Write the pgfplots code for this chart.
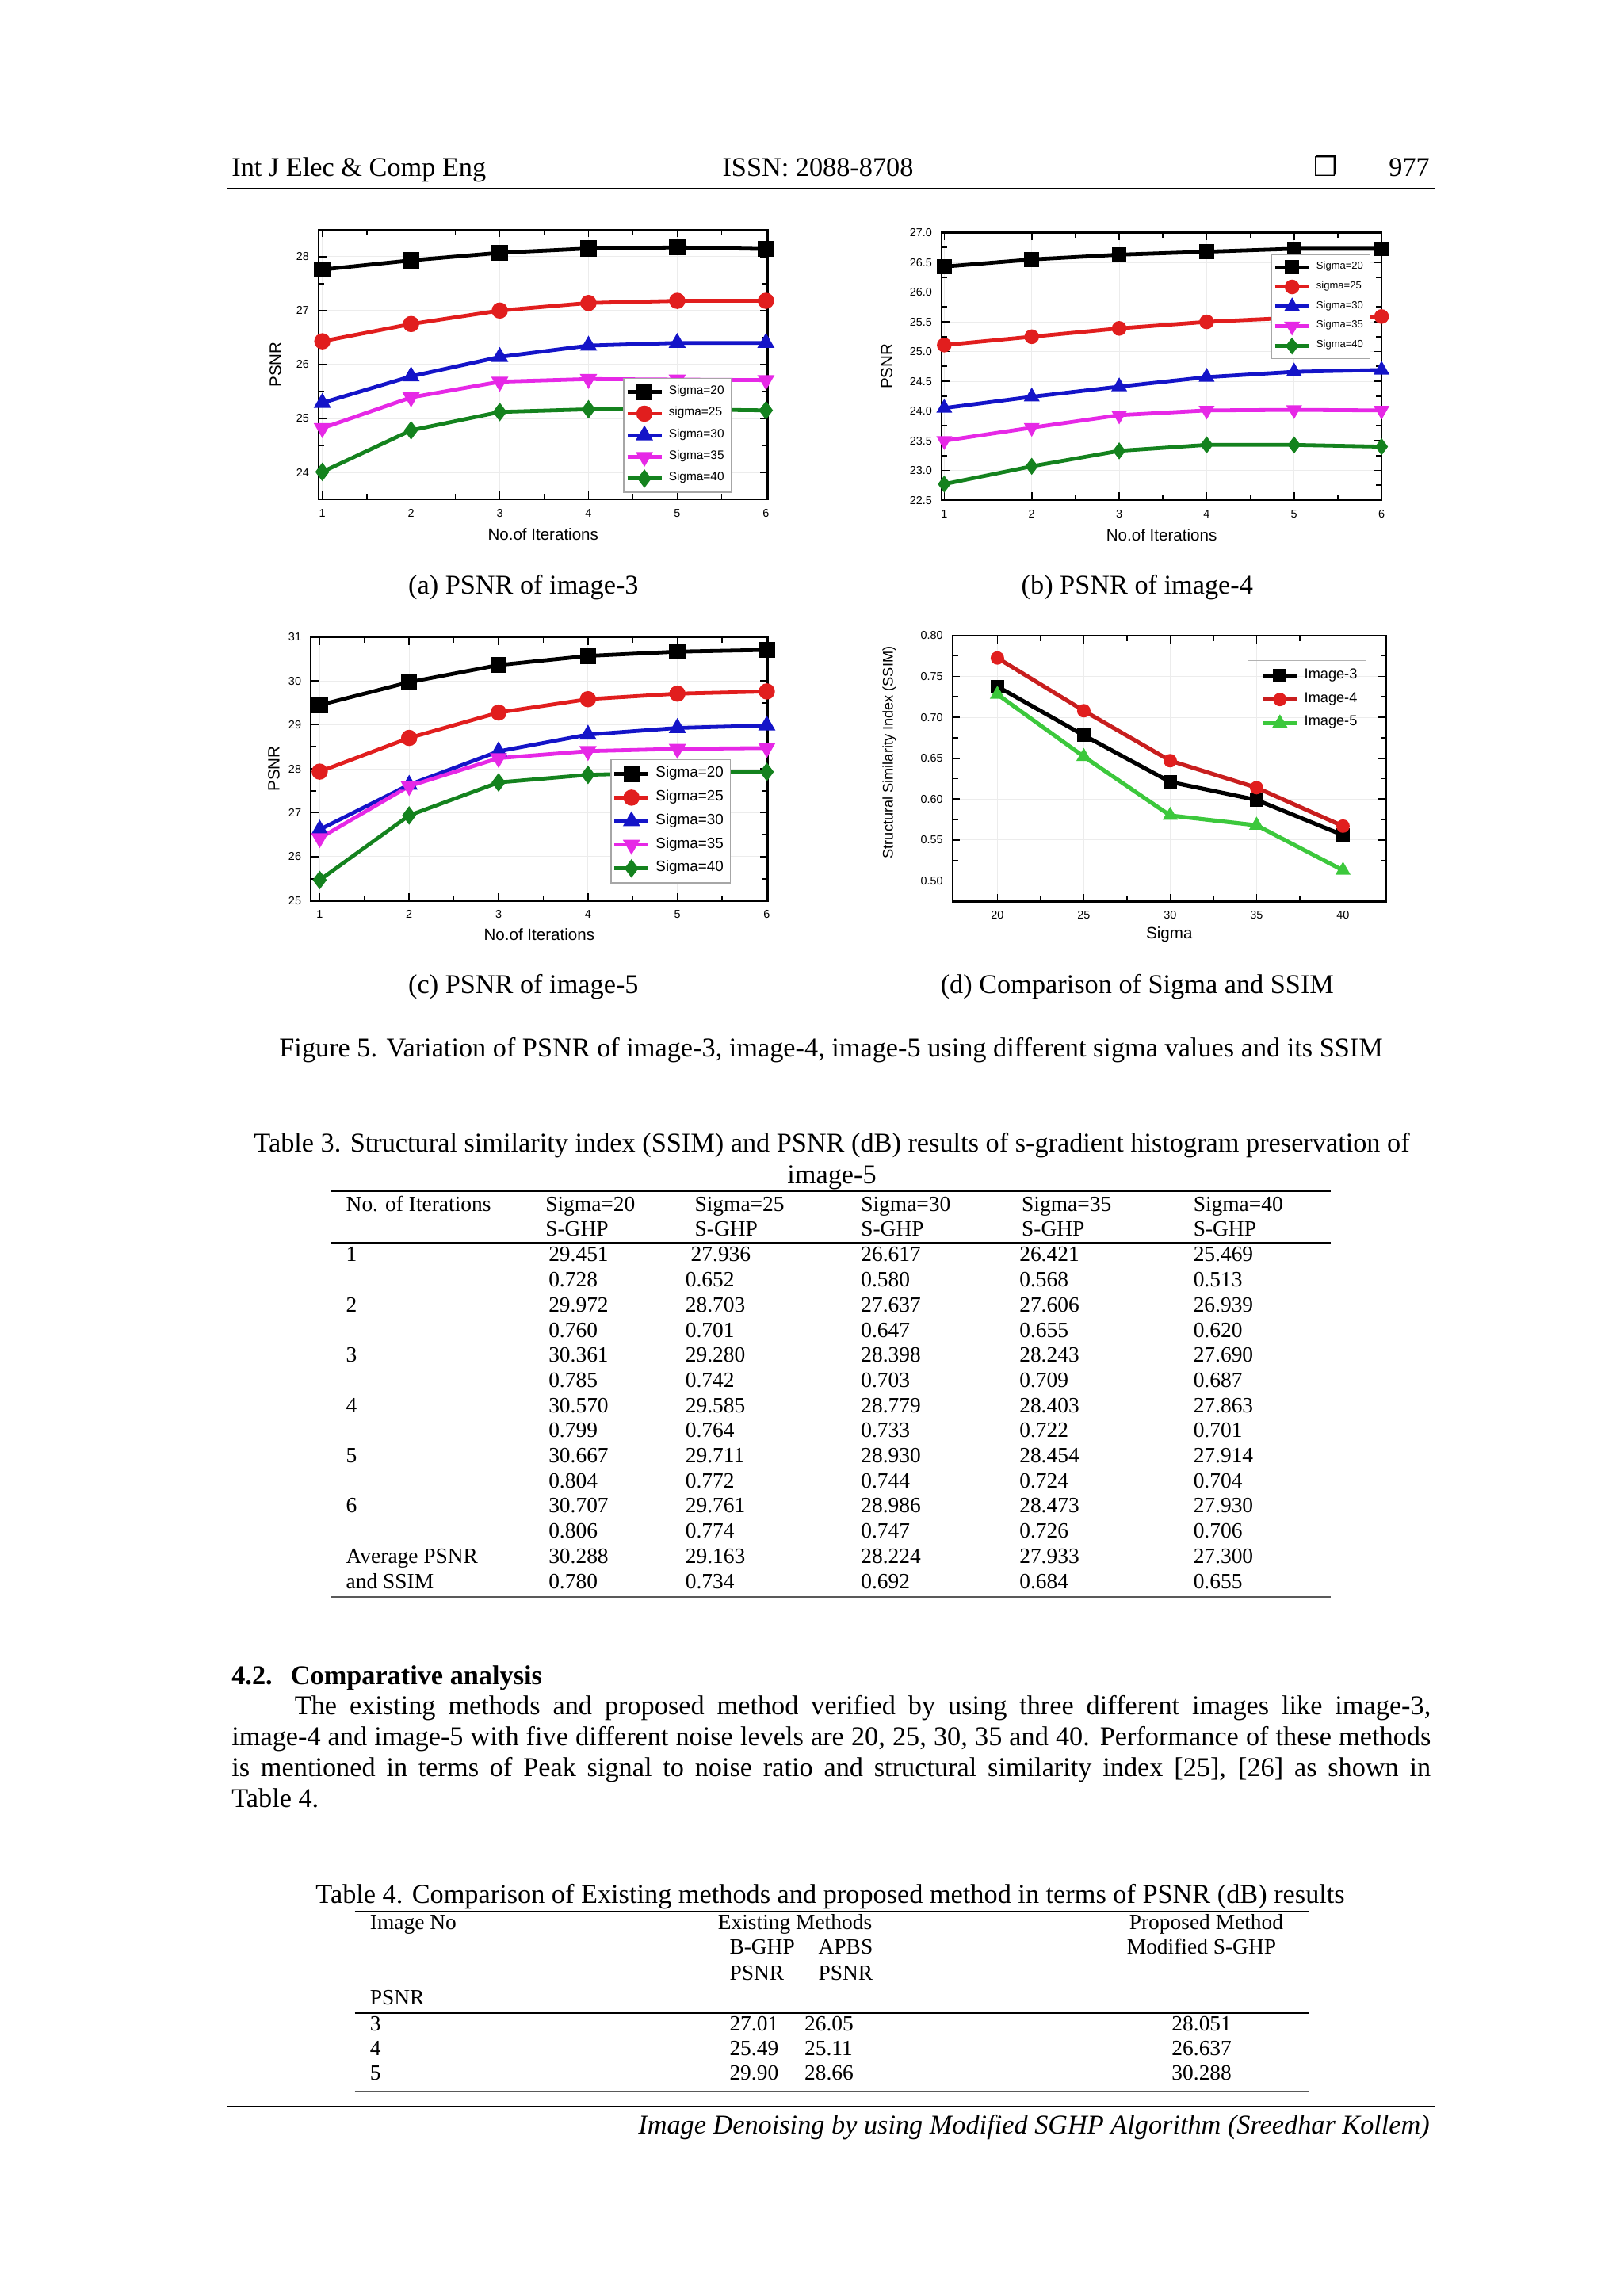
\documentclass[border=0pt]{standalone}
\usepackage{fontspec}
\setmainfont{Liberation Serif}
\newfontfamily\arial{Liberation Sans}
\newfontfamily\dejavu{DejaVu Sans}
\usepackage{pgfplots}
\pgfplotsset{compat=1.18}

\definecolor{cred}{RGB}{225,30,30}
\definecolor{cblu}{RGB}{20,20,200}
\definecolor{cmag}{RGB}{230,40,230}
\definecolor{cgrn}{RGB}{20,130,30}
\definecolor{dred}{RGB}{200,30,30}
\definecolor{lgrn}{RGB}{60,200,60}

\pgfplotsset{
 psnr/.style={scale only axis, axis line style={line width=0.7pt},
  tick align=inside, tick style={black,line width=0.5pt},
  major tick length=1mm, minor tick length=0.7mm, minor tick num=1,
  xmajorgrids, ymajorgrids, major grid style={gray!15,line width=0.3pt},
  tick label style={font=\arial\fontsize{4.2}{5}\selectfont},
  label style={font=\arial\fontsize{6}{6.5}\selectfont},
  /pgf/number format/assume math mode=true,
  every axis plot/.append style={line width=1.4pt, mark size=0.8mm},
  legend cell align=left,
  legend image code/.code={\draw[mark repeat=2,mark phase=2] plot coordinates {(0mm,0mm) (2.2mm,0mm) (4.4mm,0mm)};}},
 s20/.style={black, mark=square*},
 s25/.style={cred, mark=*},
 s30/.style={cblu, mark=triangle*},
 s35/.style={cmag, mark=triangle*, mark options={rotate=180}},
 s40/.style={cgrn, mark=diamond*},
}

\newcommand{\tcell}[3]{\node[anchor=base west,inner sep=0,font=\fontsize{8}{9}\selectfont] at (#1mm,-#2mm) {#3};}
\newcommand{\trow}[7]{\tcell{44.7}{#1}{#2}\tcell{70.9}{#1}{#3}\tcell{88.6}{#1}{#4}\tcell{111.3}{#1}{#5}\tcell{131.8}{#1}{#6}\tcell{154.3}{#1}{#7}}

\begin{document}
\begin{tikzpicture}
\fill[white] (0,0) rectangle (210mm,-297mm);
\useasboundingbox (0,0) rectangle (210mm,-297mm);

% header
\node[anchor=base west,inner sep=0] at (29.9mm,-22.8mm) {Int J Elec \& Comp Eng};
\node[anchor=base,inner sep=0] at (105.8mm,-22.8mm) {ISSN: 2088-8708};
\node[anchor=base,inner sep=0] at (171.5mm,-22.8mm) {\dejavu ❐};
\node[anchor=base east,inner sep=0] at (185.0mm,-22.8mm) {977};
\draw[line width=0.6pt] (29.4mm,-24.4mm) -- (185.7mm,-24.4mm);

% (a)
\begin{axis}[psnr, at={(41.2mm,-29.7mm)}, anchor=north west, width=58.1mm, height=34.9mm,
 xmin=0.957, xmax=6.02, ymin=23.5, ymax=28.5, xtick={1,...,6}, ytick={24,...,28},
 xlabel={No.of Iterations}, ylabel={PSNR},
 xlabel style={at={(axis description cs:0.5,-0.13)},anchor=center},
 ylabel style={at={(axis description cs:-0.096,0.5)},anchor=center},
 legend style={at={(0.92,0.025)},anchor=south east, draw=gray!70, line width=0.4pt,
  font=\arial\fontsize{4.5}{5}\selectfont, inner sep=0.6pt, row sep=-0.8pt}]
\addplot[s20] coordinates {(1,27.76) (2,27.93) (3,28.07) (4,28.15) (5,28.17) (6,28.14)};
\addplot[s25] coordinates {(1,26.43) (2,26.75) (3,27.00) (4,27.14) (5,27.18) (6,27.18)};
\addplot[s30] coordinates {(1,25.29) (2,25.78) (3,26.14) (4,26.35) (5,26.40) (6,26.40)};
\addplot[s35] coordinates {(1,24.82) (2,25.39) (3,25.68) (4,25.73) (5,25.72) (6,25.71)};
\addplot[s40] coordinates {(1,24.01) (2,24.78) (3,25.12) (4,25.17) (5,25.17) (6,25.15)};
\legend{Sigma=20,sigma=25,Sigma=30,Sigma=35,Sigma=40}
\end{axis}

% (b)
\begin{axis}[psnr, at={(121.8mm,-30.1mm)}, anchor=north west, width=56.9mm, height=34.6mm,
 xmin=0.97, xmax=6.0, ymin=22.5, ymax=27.0, xtick={1,...,6}, ytick={22.5,23,...,27},
 yticklabel style={/pgf/number format/.cd, fixed, fixed zerofill, precision=1},
 xlabel={No.of Iterations}, ylabel={PSNR},
 xlabel style={at={(axis description cs:0.5,-0.13)},anchor=center},
 ylabel style={at={(axis description cs:-0.125,0.5)},anchor=center},
 every axis plot/.append style={mark size=0.7mm},
 legend style={at={(0.975,0.92)},anchor=north east, draw=gray!70, line width=0.4pt,
  font=\arial\fontsize{3.8}{4.2}\selectfont, inner sep=0.5pt, row sep=-1pt}]
\addplot[s20] coordinates {(1,26.43) (2,26.55) (3,26.63) (4,26.68) (5,26.73) (6,26.73)};
\addplot[s25] coordinates {(1,25.11) (2,25.25) (3,25.39) (4,25.50) (5,25.57) (6,25.59)};
\addplot[s30] coordinates {(1,24.05) (2,24.24) (3,24.41) (4,24.57) (5,24.66) (6,24.69)};
\addplot[s35] coordinates {(1,23.50) (2,23.72) (3,23.93) (4,24.01) (5,24.02) (6,24.01)};
\addplot[s40] coordinates {(1,22.77) (2,23.07) (3,23.33) (4,23.43) (5,23.43) (6,23.40)};
\legend{Sigma=20,sigma=25,Sigma=30,Sigma=35,Sigma=40}
\end{axis}

% (c)
\begin{axis}[psnr, at={(40.2mm,-82.4mm)}, anchor=north west, width=59.1mm, height=34.1mm,
 xmin=0.90, xmax=6.01, ymin=25, ymax=31, xtick={1,...,6}, ytick={25,...,31},
 xlabel={No.of Iterations}, ylabel={PSNR},
 xlabel style={at={(axis description cs:0.5,-0.13)},anchor=center},
 ylabel style={at={(axis description cs:-0.081,0.5)},anchor=center},
 legend style={at={(0.92,0.065)},anchor=south east, draw=gray!70, line width=0.4pt,
  font=\arial\fontsize{5.5}{6}\selectfont, inner sep=0.6pt, row sep=-0.8pt}]
\addplot[s20] coordinates {(1,29.451) (2,29.972) (3,30.361) (4,30.570) (5,30.667) (6,30.707)};
\addplot[s25] coordinates {(1,27.936) (2,28.703) (3,29.280) (4,29.585) (5,29.711) (6,29.761)};
\addplot[s30] coordinates {(1,26.617) (2,27.637) (3,28.398) (4,28.779) (5,28.930) (6,28.986)};
\addplot[s35] coordinates {(1,26.421) (2,27.606) (3,28.243) (4,28.403) (5,28.454) (6,28.473)};
\addplot[s40] coordinates {(1,25.469) (2,26.939) (3,27.690) (4,27.863) (5,27.914) (6,27.930)};
\legend{Sigma=20,Sigma=25,Sigma=30,Sigma=35,Sigma=40}
\end{axis}

% (d)
\begin{axis}[psnr, at={(123.2mm,-82.2mm)}, anchor=north west, width=56.1mm, height=34.4mm,
 xmin=17.4, xmax=42.5, ymin=0.475, ymax=0.80, xtick={20,25,...,40}, ytick={0.50,0.55,...,0.80},
 yticklabel style={/pgf/number format/.cd, fixed, fixed zerofill, precision=2},
 xlabel={Sigma}, ylabel={Structural Similarity Index (SSIM)},
 xlabel style={at={(axis description cs:0.5,-0.125)},anchor=center},
 ylabel style={at={(axis description cs:-0.146,0.56)},anchor=center, font=\arial\fontsize{5.3}{6}\selectfont},
 every axis plot/.append style={line width=1.5pt, mark size=0.6mm},
 legend style={at={(0.952,0.905)},anchor=north east, draw=none, fill=none,
  font=\arial\fontsize{5.3}{6}\selectfont, inner sep=0.8pt, row sep=-0.5pt}]
\addplot[black, mark=square*] coordinates {(20,0.7376) (25,0.678) (30,0.621) (35,0.599) (40,0.556)};
\addplot[dred, mark=*, mark options={fill=cred, draw=cred}] coordinates {(20,0.7725) (25,0.708) (30,0.647) (35,0.614) (40,0.567)};
\addplot[lgrn, mark=triangle*] coordinates {(20,0.728) (25,0.652) (30,0.580) (35,0.568) (40,0.513)};
\legend{Image-3,Image-4,Image-5}
\draw[gray!60, line width=0.4pt] (rel axis cs:0.683,0.905) -- (rel axis cs:0.952,0.905);
\draw[gray!60, line width=0.4pt] (rel axis cs:0.683,0.711) -- (rel axis cs:0.952,0.711);
\end{axis}

% captions
\node[anchor=base,inner sep=0] at (67.7mm,-76.8mm) {(a) PSNR of image-3};
\node[anchor=base,inner sep=0] at (147.1mm,-76.8mm) {(b) PSNR of image-4};
\node[anchor=base,inner sep=0] at (67.7mm,-128.5mm) {(c) PSNR of image-5};
\node[anchor=base,inner sep=0] at (147.1mm,-128.5mm) {(d) Comparison of Sigma and SSIM};
\node[anchor=base,inner sep=0] at (107.5mm,-136.7mm) {Figure 5. Variation of PSNR of image-3, image-4, image-5 using different sigma values and its SSIM};

% Table 3
\node[anchor=base,inner sep=0] at (107.6mm,-149.0mm) {Table 3. Structural similarity index (SSIM) and PSNR (dB) results of s-gradient histogram preservation of};
\node[anchor=base,inner sep=0] at (107.6mm,-153.1mm) {image-5};
\draw[line width=0.6pt] (42.8mm,-154.1mm) -- (172.1mm,-154.1mm);
\tcell{44.7}{156.7}{No. of Iterations}
\tcell{70.5}{156.7}{Sigma=20}\tcell{89.8}{156.7}{Sigma=25}\tcell{111.3}{156.7}{Sigma=30}\tcell{132.1}{156.7}{Sigma=35}\tcell{154.3}{156.7}{Sigma=40}
\tcell{70.5}{159.9}{S-GHP}\tcell{89.8}{159.9}{S-GHP}\tcell{111.3}{159.9}{S-GHP}\tcell{132.1}{159.9}{S-GHP}\tcell{154.3}{159.9}{S-GHP}
\draw[line width=0.6pt] (42.8mm,-160.8mm) -- (172.1mm,-160.8mm);
\trow{163.20}{1}{29.451}{\hspace{0.7mm}27.936}{26.617}{26.421}{25.469}
\trow{166.45}{}{0.728}{0.652}{0.580}{0.568}{0.513}
\trow{169.70}{2}{29.972}{28.703}{27.637}{27.606}{26.939}
\trow{172.95}{}{0.760}{0.701}{0.647}{0.655}{0.620}
\trow{176.20}{3}{30.361}{29.280}{28.398}{28.243}{27.690}
\trow{179.45}{}{0.785}{0.742}{0.703}{0.709}{0.687}
\trow{182.70}{4}{30.570}{29.585}{28.779}{28.403}{27.863}
\trow{185.95}{}{0.799}{0.764}{0.733}{0.722}{0.701}
\trow{189.20}{5}{30.667}{29.711}{28.930}{28.454}{27.914}
\trow{192.45}{}{0.804}{0.772}{0.744}{0.724}{0.704}
\trow{195.70}{6}{30.707}{29.761}{28.986}{28.473}{27.930}
\trow{198.95}{}{0.806}{0.774}{0.747}{0.726}{0.706}
\trow{202.20}{Average PSNR}{30.288}{29.163}{28.224}{27.933}{27.300}
\trow{205.45}{and SSIM}{0.780}{0.734}{0.692}{0.684}{0.655}
\draw[line width=0.6pt, gray!70!black] (42.8mm,-206.6mm) -- (172.1mm,-206.6mm);

% Section text
\node[anchor=base west,inner sep=0,font=\bfseries] at (29.9mm,-217.9mm) {4.2.\hspace{1.2mm} Comparative analysis};
\node[anchor=base west,inner sep=0] at (38.05mm,-221.8mm) {\makebox[146.95mm][s]{The existing methods and proposed method verified by using three different images like image-3,}};
\node[anchor=base west,inner sep=0] at (29.9mm,-225.8mm) {\makebox[155.1mm][s]{image-4 and image-5 with five different noise levels are 20, 25, 30, 35 and 40. Performance of these methods}};
\node[anchor=base west,inner sep=0] at (29.9mm,-229.8mm) {\makebox[155.1mm][s]{is mentioned in terms of Peak signal to noise ratio and structural similarity index [25], [26] as shown in}};
\node[anchor=base west,inner sep=0] at (29.9mm,-233.8mm) {Table 4.};

% Table 4
\node[anchor=base,inner sep=0] at (107.4mm,-246.2mm) {Table 4. Comparison of Existing methods and proposed method in terms of PSNR (dB) results};
\draw[line width=0.6pt] (45.9mm,-247.3mm) -- (169.3mm,-247.3mm);
\tcell{47.8}{249.6}{Image No}\tcell{92.8}{249.6}{Existing Methods}\tcell{146.0}{249.6}{Proposed Method}
\tcell{94.3}{252.8}{B-GHP}\tcell{105.8}{252.8}{APBS}\tcell{145.7}{252.8}{Modified S-GHP}
\tcell{94.3}{256.1}{PSNR}\tcell{105.8}{256.1}{PSNR}
\tcell{47.8}{259.3}{PSNR}
\draw[line width=0.6pt] (45.9mm,-260.4mm) -- (169.3mm,-260.4mm);
\tcell{47.8}{262.7}{3}\tcell{94.3}{262.7}{27.01}\tcell{104.0}{262.7}{26.05}\tcell{151.5}{262.7}{28.051}
\tcell{47.8}{265.9}{4}\tcell{94.3}{265.9}{25.49}\tcell{104.0}{265.9}{25.11}\tcell{151.5}{265.9}{26.637}
\tcell{47.8}{269.1}{5}\tcell{94.3}{269.1}{29.90}\tcell{104.0}{269.1}{28.66}\tcell{151.5}{269.1}{30.288}
\draw[line width=0.6pt, gray!70!black] (45.9mm,-270.5mm) -- (169.3mm,-270.5mm);

% footer
\draw[line width=0.6pt] (29.4mm,-272.5mm) -- (185.7mm,-272.5mm);
\node[anchor=base east,inner sep=0,font=\itshape] at (185.0mm,-276.0mm) {Image Denoising by using Modified SGHP Algorithm (Sreedhar Kollem)};
\end{tikzpicture}
\end{document}
